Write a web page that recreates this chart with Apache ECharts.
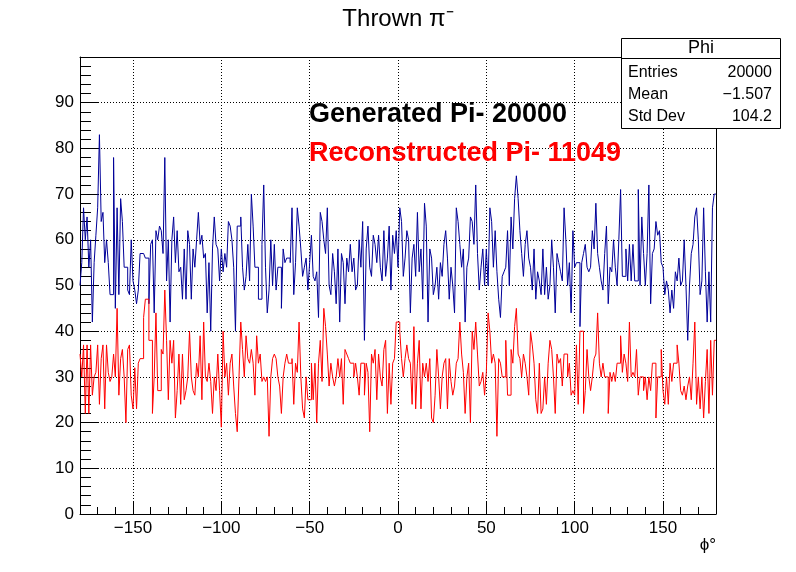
<!DOCTYPE html>
<html><head><meta charset="utf-8">
<script src="https://cdn.jsdelivr.net/npm/echarts@6/dist/echarts.min.js"></script>
<style>html,body{margin:0;padding:0;background:#fff}#c{width:796px;height:572px}</style>
</head><body><div id="c"></div>
<script>
const phiMin = -180, phiMax = 180, binWidth = 1;
const xTickValues = [-150, -100, -50, 0, 50, 100, 150];
const yTickValues = [0, 10, 20, 30, 40, 50, 60, 70, 80, 90];
const generatedCounts = [
50,55,67,60,65,54,60,42,55,61,67,83,64,66,55,60,55,48,48,78,45,67,48,69,64,54,54,49,48,60,51,49,46,49,57,57,57,56,56,46,59,60,44,62,60,
63,62,57,78,51,60,42,60,65,55,62,53,54,47,58,47,62,59,47,58,54,60,66,59,61,56,57,44,55,40,58,65,59,58,51,58,53,57,54,64,63,60,54,40,63,
63,65,54,49,52,59,51,70,63,54,54,47,47,59,72,54,44,49,60,50,59,49,54,54,45,58,55,56,56,55,67,48,55,67,63,58,52,54,56,49,55,61,52,51,53,
43,66,64,60,57,67,50,48,57,53,46,58,42,57,55,46,56,53,59,53,56,49,50,60,54,64,38,58,63,54,52,61,59,55,61,54,51,62,52,56,63,49,61,57,62,
54,67,64,52,56,62,60,44,56,59,52,66,53,58,47,68,63,42,58,56,48,50,54,47,55,52,59,62,56,47,54,50,44,67,64,59,54,58,42,54,56,65,64,59,72,
57,49,54,58,50,58,50,67,64,54,62,53,47,43,52,53,54,62,50,65,58,69,74,69,62,57,52,59,62,56,54,49,58,47,53,51,48,58,48,54,47,50,60,54,44,
57,55,53,51,67,60,50,55,44,62,54,55,55,41,55,57,59,54,53,54,62,58,68,57,54,51,49,57,63,46,54,53,60,54,50,60,71,52,52,58,51,59,51,59,51,
51,71,50,65,57,50,57,72,46,57,58,64,61,62,55,54,48,51,49,44,49,45,53,51,56,50,51,60,50,38,50,57,59,65,67,60,48,51,67,53,42,53,42,67,70
];
const reconstructedCounts = [
35,30,37,22,37,22,37,26,30,31,37,24,34,37,23,37,31,29,30,35,30,45,26,34,36,30,20,36,37,26,23,32,23,33,34,34,43,47,47,38,38,22,30,44,27,
27,36,35,49,38,25,38,33,38,21,27,35,24,35,25,27,30,40,30,27,26,33,30,39,25,42,30,29,33,29,22,30,27,35,27,19,40,30,33,26,33,35,28,22,18,
30,42,36,30,39,34,33,36,33,26,39,33,35,29,30,29,30,17,30,34,35,34,30,28,22,30,33,35,33,33,34,24,33,31,42,30,23,21,30,25,25,33,25,33,20,
33,38,29,45,41,35,28,33,30,28,30,34,30,34,24,36,35,34,33,33,30,33,30,26,33,33,26,33,31,18,35,33,36,25,35,30,28,36,38,22,33,24,33,34,42,
42,40,34,30,34,37,34,33,24,41,23,33,38,23,33,30,33,29,34,21,20,26,36,30,23,30,33,34,23,34,29,26,28,33,34,42,35,31,22,30,33,20,40,36,42,
35,28,29,31,26,31,44,40,33,35,33,17,34,33,30,30,38,26,26,36,33,41,45,35,34,30,35,33,30,26,40,37,33,25,22,33,22,23,30,24,33,38,36,30,22,
35,33,34,28,35,35,30,33,26,27,26,37,24,40,40,22,27,36,30,27,30,34,35,44,33,30,33,30,30,22,31,29,31,29,33,33,39,31,35,33,29,42,30,31,30,
36,26,30,30,27,30,25,30,27,33,33,21,30,30,36,27,24,30,24,33,29,33,33,37,33,27,26,28,25,28,30,25,33,42,24,30,23,30,21,29,36,22,38,26,38
];
const statsTitle = 'Phi';
const statsRows = [['Entries', '20000'], ['Mean', '\u22121.507'], ['Std Dev', '104.2']];

function toSteps(counts) {
  const pts = counts.map((v, i) => [phiMin + i * binWidth, v]);
  pts.push([phiMin + counts.length * binWidth, counts[counts.length - 1]]);
  return pts;
}
const FONT = '"Liberation Sans", Arial, Helvetica, sans-serif';
const chart = echarts.init(document.getElementById('c'), null, {renderer: 'canvas'});
const dotted = {type: [1, 2], color: '#000', width: 1};
const gfx = [
  {type: 'text', x: 398, y: 19, z: 100, style: {text: 'Thrown \u03c0\u207b', font: '24px ' + FONT, fill: '#000', align: 'center', textAlign: 'center', verticalAlign: 'middle', textVerticalAlign: 'middle'}},
  {type: 'text', x: 309, y: 115, z: 100, style: {text: 'Generated Pi- 20000', font: 'bold 27px ' + FONT, fill: '#000', align: 'left', textAlign: 'left', verticalAlign: 'middle', textVerticalAlign: 'middle'}},
  {type: 'text', x: 309, y: 154, z: 100, style: {text: 'Reconstructed Pi- 11049', font: 'bold 27px ' + FONT, fill: '#ff0000', align: 'left', textAlign: 'left', verticalAlign: 'middle', textVerticalAlign: 'middle'}},
  {type: 'rect', z: 100, shape: {x: 621.5, y: 38.5, width: 159, height: 90}, style: {fill: '#fff', stroke: '#000', lineWidth: 1}},
  {type: 'line', z: 101, shape: {x1: 621.5, y1: 58.5, x2: 780.5, y2: 58.5}, style: {stroke: '#000', lineWidth: 1}},
  {type: 'text', x: 701, y: 48.5, z: 102, style: {text: statsTitle, font: '18px ' + FONT, fill: '#000', align: 'center', textAlign: 'center', verticalAlign: 'middle', textVerticalAlign: 'middle'}},
  {type: 'text', x: 716, y: 545, z: 102, style: {text: '\u03d5\u00b0', font: '17px ' + FONT, fill: '#000', align: 'right', textAlign: 'right', verticalAlign: 'middle', textVerticalAlign: 'middle'}}
];
statsRows.forEach((r, i) => {
  const y = 73 + i * 22;
  gfx.push({type: 'text', x: 628, y: y, z: 102, style: {text: r[0], font: '16px ' + FONT, fill: '#000', align: 'left', textAlign: 'left', verticalAlign: 'middle', textVerticalAlign: 'middle'}});
  gfx.push({type: 'text', x: 772, y: y, z: 102, style: {text: r[1], font: '16px ' + FONT, fill: '#000', align: 'right', textAlign: 'right', verticalAlign: 'middle', textVerticalAlign: 'middle'}});
});

chart.setOption({
  animation: false,
  backgroundColor: '#fff',
  grid: {left: 80, right: 80, top: 57, bottom: 58, containLabel: false},
  xAxis: [
    {type: 'value', min: phiMin, max: phiMax, interval: 10, position: 'bottom',
     axisLine: {show: true, onZero: false, lineStyle: {color: '#000', width: 1}},
     axisTick: {show: true, inside: true, length: 7, lineStyle: {color: '#000'}},
     axisLabel: {show: true, margin: 6, fontSize: 17, color: '#000', fontFamily: FONT,
       formatter: v => xTickValues.includes(v) ? String(v).replace('-', '\u2212') : ''},
     splitLine: {show: false}},
    {type: 'value', min: phiMin, max: phiMax, position: 'bottom',
     axisLine: {show: false, onZero: false},
     axisTick: {show: true, inside: true, length: 12, customValues: xTickValues, lineStyle: {color: '#000'}},
     axisLabel: {show: false}, splitLine: {show: false}},
    {type: 'value', min: phiMin, max: phiMax, position: 'top',
     axisLine: {show: true, onZero: false, lineStyle: {color: '#000', width: 1}},
     axisTick: {show: false}, axisLabel: {show: false}, splitLine: {show: false}}
  ],
  yAxis: [
    {type: 'value', min: 0, max: 100, interval: 10, position: 'left',
     axisLine: {show: true, onZero: false, lineStyle: {color: '#000', width: 1}},
     axisTick: {show: true, inside: true, length: 19, lineStyle: {color: '#000'}},
     minorTick: {show: true, splitNumber: 5, length: 11, lineStyle: {color: '#000'}},
     axisLabel: {show: true, margin: 6, fontSize: 17, color: '#000', fontFamily: FONT,
       formatter: v => yTickValues.includes(v) ? String(v) : ''},
     splitLine: {show: true, lineStyle: dotted}},
    {type: 'value', min: 0, max: 100, position: 'right',
     axisLine: {show: true, onZero: false, lineStyle: {color: '#000', width: 1}},
     axisTick: {show: false}, axisLabel: {show: false}, splitLine: {show: false}}
  ],
  series: [
    {type: 'line', name: 'Generated', xAxisIndex: 0, yAxisIndex: 0, step: 'end', symbol: 'none',
     data: toSteps(generatedCounts), lineStyle: {color: '#000099', width: 1}, itemStyle: {color: '#000099'},
     z: 3, silent: true,
     markLine: {silent: true, symbol: ['none', 'none'], label: {show: false}, lineStyle: dotted, z: 1,
       data: xTickValues.map(v => ({xAxis: v}))}},
    {type: 'line', name: 'Reconstructed', xAxisIndex: 0, yAxisIndex: 0, step: 'end', symbol: 'none',
     data: toSteps(reconstructedCounts), lineStyle: {color: '#ff0000', width: 1}, itemStyle: {color: '#ff0000'},
     z: 3, silent: true}
  ],
  graphic: gfx
});
</script></body></html>
